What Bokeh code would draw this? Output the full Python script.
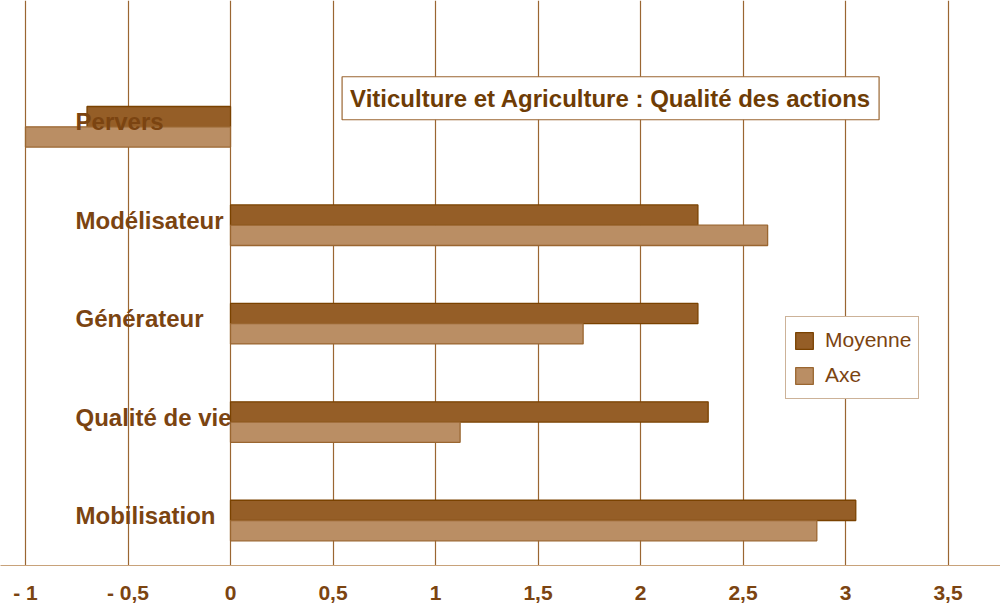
from bokeh.plotting import figure
from bokeh.models import (ColumnDataSource, Range1d, FixedTicker, Label, Legend,
                          LegendItem)
from bokeh.transform import dodge
from bokeh.core.properties import value
from bokeh.embed import file_html
from bokeh.resources import INLINE

# ---- data ----
categories = ["Pervers", "Modélisateur", "Générateur", "Qualité de vie", "Mobilisation"]
moyenne = [-0.70, 2.28, 2.28, 2.33, 3.05]
axe = [-1.00, 2.62, 1.72, 1.12, 2.86]
tick_values = [-1, -0.5, 0, 0.5, 1, 1.5, 2, 2.5, 3, 3.5]
tick_labels = ["- 1", "- 0,5", "0", "0,5", "1", "1,5", "2", "2,5", "3", "3,5"]
title_text = "Viticulture et Agriculture : Qualité des actions"

BROWN_TXT = "#7B4411"
GRID = "#9A6632"
C_MOY = "#955E27"
C_MOY_LINE = "#7A4200"
C_AXE = "#BA8E64"
C_AXE_LINE = "#9A6630"

idx = list(range(len(categories)))
src = ColumnDataSource(dict(cat=categories, idx=idx, moyenne=moyenne, axe=axe))

p = figure(width=1000, height=606, output_backend="svg", toolbar_location=None,
           x_range=Range1d(-1.122, 3.756), y_range=Range1d(4.457, -1.283),
           min_border=0, min_border_bottom=36, outline_line_color=None,
           background_fill_color="white", border_fill_color="white")

p.ygrid.visible = False
p.yaxis.visible = False
p.xgrid.ticker = FixedTicker(ticks=tick_values)
p.xgrid.grid_line_color = GRID
p.xgrid.grid_line_width = 1.2

p.xaxis.ticker = FixedTicker(ticks=tick_values)
p.xaxis.major_label_overrides = {v: l for v, l in zip(tick_values, tick_labels)}
p.xaxis.axis_line_color = "#C8A27A"
p.xaxis.axis_line_width = 1.2
p.xaxis.major_tick_line_color = None
p.xaxis.minor_tick_line_color = None
p.xaxis.major_label_standoff = 9
p.xaxis.major_label_text_font = "Liberation Sans Narrow, Liberation Sans, Arial"
p.xaxis.major_label_text_font_style = "bold"
p.xaxis.major_label_text_font_size = "21px"
p.xaxis.major_label_text_color = BROWN_TXT

bh = 0.206
r_moy = p.hbar(y=dodge("idx", -bh / 2), right="moyenne", left=0, height=bh,
               source=src, fill_color=C_MOY, line_color=C_MOY_LINE, line_width=1.3)
r_axe = p.hbar(y=dodge("idx", bh / 2), right="axe", left=0, height=bh,
               source=src, fill_color=C_AXE, line_color=C_AXE_LINE, line_width=1.3)

p.text(x=-0.756, y="idx", text="cat", source=src, y_offset=-5,
       text_font=value("Liberation Sans"), text_font_style="bold",
       text_font_size="24px", text_color=BROWN_TXT,
       text_align="left", text_baseline="middle")

title = Label(x=1.854, y=-0.29, text=title_text, text_align="center",
              text_baseline="middle", text_font="Liberation Sans",
              text_font_style="bold", text_font_size="24px", text_color="#6E3C05",
              background_fill_color="white", border_line_color=GRID,
              border_line_width=1.2, padding=8)
p.add_layout(title)

legend = Legend(items=[LegendItem(label="Moyenne", renderers=[r_moy]),
                       LegendItem(label="Axe", renderers=[r_axe])],
                location=(785, 166), orientation="vertical",
                label_text_font="Liberation Sans", label_text_font_size="21px",
                label_text_color=BROWN_TXT, glyph_width=22, glyph_height=21,
                label_height=32, spacing=3, padding=7, margin=0,
                label_standoff=10, border_line_color=GRID, border_line_width=1.2,
                background_fill_color="white", background_fill_alpha=1)
p.add_layout(legend)

open("out.html", "w").write(file_html(p, INLINE))
